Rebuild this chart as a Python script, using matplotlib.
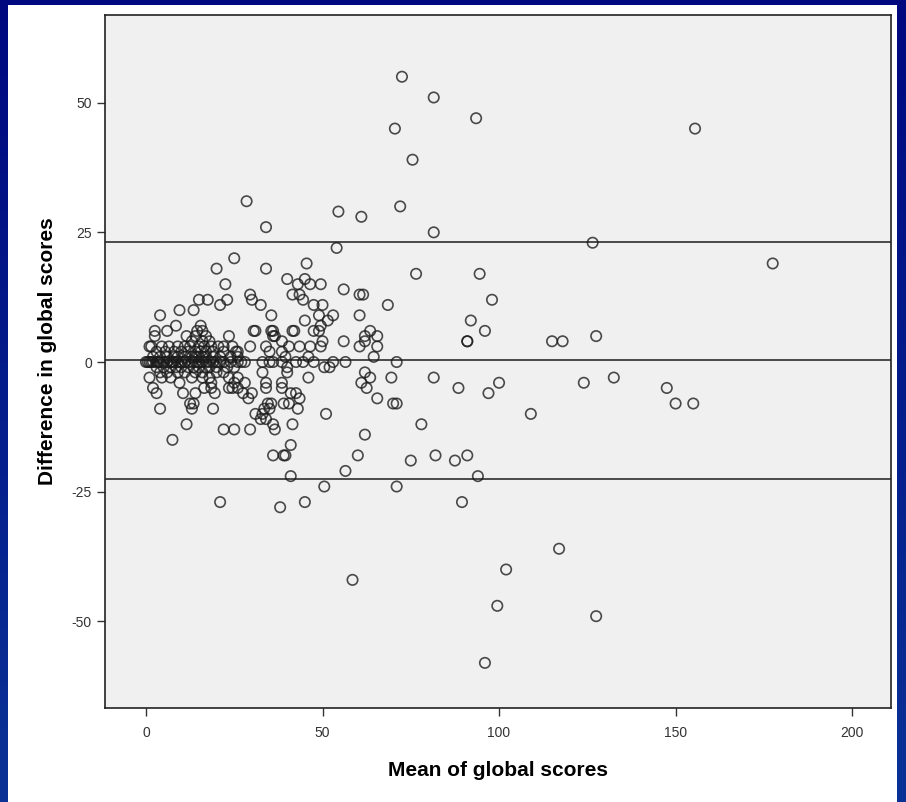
import numpy as np
import matplotlib
matplotlib.use("Agg")
import matplotlib.pyplot as plt
from matplotlib.patches import Rectangle

plt.rcParams["axes.unicode_minus"] = False
plt.rcParams["font.family"] = ["Liberation Sans", "DejaVu Sans"]

# Bland-Altman style data: difference value -> list of means at that difference
rows = {
    55: [72.5],
    51: [81.5],
    47: [93.5],
    45: [70.5, 155.5],
    39: [75.5],
    31: [28.5],
    30: [72],
    29: [54.5],
    28: [61],
    26: [34],
    25: [81.5],
    23: [126.5],
    22: [54],
    20: [25],
    19: [45.5, 177.5],
    18: [20, 34],
    17: [76.5, 94.5],
    16: [40, 45],
    15: [22.5, 43, 46.5, 49.5],
    14: [56],
    13: [29.5, 41.5, 43.5, 60.5, 61.5],
    12: [15, 17.5, 23, 30, 44.5, 98],
    11: [21, 32.5, 47.5, 50, 68.5],
    10: [9.5, 13.5],
    9: [4, 35.5, 49, 53, 60.5],
    8: [45, 51.5, 92],
    7: [8.5, 15.5, 49.5],
    6: [2.5, 6, 14.5, 16, 30.5, 31, 35.5, 36, 41.5, 42, 47.5, 49, 63.5, 96],
    5: [2.5, 11.5, 14, 17, 23.5, 36, 36.5, 62, 65.5, 127.5],
    4: [13, 16, 18, 38.5, 50, 56, 62, 91, 91, 115, 118],
    3: [1, 1.5, 4.5, 6.5, 9, 11, 12.5, 15, 16.5, 18.5, 20.5, 22, 24.5, 29.5,
        34, 40.5, 43.5, 46.5, 49.5, 60.5, 65.5],
    2: [3, 5.5, 8, 10, 12, 14, 15.5, 17, 19, 22, 25.5, 26, 35, 38.5],
    1: [2, 4, 6, 8, 9, 11, 13, 14, 15, 16, 17, 19, 21, 24, 26, 39.5, 46, 64.5],
    0: [0, 0.5, 1, 1.5, 2, 3, 3.5, 4, 5, 6, 7, 7.5, 8, 9, 10, 11, 12, 13, 14,
        15, 16, 17, 18, 19, 20, 21, 22, 24, 26, 27, 28, 33, 35, 36, 38.5,
        42.5, 44.5, 47.5, 53, 56.5, 71],
    -1: [3, 5, 7, 8.5, 10, 12, 13.5, 15, 17, 18, 20, 23, 25, 40, 50.5, 52],
    -2: [4, 6, 9, 11, 14, 16, 20, 22, 33, 40, 62],
    -3: [1, 4.5, 7, 13, 16, 18, 23.5, 26, 46, 63.5, 69.5, 81.5, 132.5],
    -4: [9.5, 18.5, 25, 28, 34, 38.5, 61, 100, 124],
    -5: [2, 16.5, 18.5, 23.5, 24.5, 26, 34, 38.5, 62.5, 88.5, 147.5],
    -6: [3, 10.5, 14, 19.5, 27.5, 30, 41, 42.5, 97],
    -7: [29, 43.5, 65.5],
    -8: [12.5, 13.5, 34.5, 35.5, 39, 40.5, 70, 71, 150, 155],
    -9: [4, 13, 19, 33.5, 35, 43],
    -10: [31, 33, 51, 109],
    -11: [32.5, 34],
    -12: [11.5, 36, 41.5, 78],
    -13: [22, 25, 29.5, 36.5],
    -14: [62],
    -15: [7.5],
    -16: [41],
    -18: [36, 39, 39.5, 60, 82, 91],
    -19: [75, 87.5],
    -21: [56.5],
    -22: [41, 94],
    -24: [50.5, 71],
    -27: [21, 45, 89.5],
    -28: [38],
    -36: [117],
    -40: [102],
    -42: [58.5],
    -47: [99.5],
    -49: [127.5],
    -58: [96],
}

mean_scores = np.array([m for d, ms in rows.items() for m in ms])
diff_scores = np.array([d for d, ms in rows.items() for m in ms])

mean_diff = 0.3
upper_loa = 23.1
lower_loa = -22.5

x_ticks = [0, 50, 100, 150, 200]
y_ticks = [-50, -25, 0, 25, 50]

W, H = 906, 802
fig = plt.figure(figsize=(W / 100, H / 100), dpi=100)

# navy gradient frame
bg = fig.add_axes([0, 0, 1, 1])
grad = np.linspace(0, 1, 256)[:, None]
top = np.array([0, 8, 128]) / 255
bot = np.array([10, 50, 150]) / 255
img = top + (bot - top) * grad[:, :, None]
bg.imshow(img, aspect="auto", extent=[0, 1, 0, 1], origin="upper")
bg.add_patch(Rectangle((8 / W, 0), (897 - 8) / W, (H - 5) / H,
                       facecolor="white", edgecolor="none"))
bg.set_xlim(0, 1)
bg.set_ylim(0, 1)
bg.axis("off")

ax = fig.add_axes([105 / W, (H - 708) / H, (891 - 105) / W, (708 - 15) / H])
ax.set_facecolor("#f0f0f0")

for y in (upper_loa, mean_diff, lower_loa):
    ax.axhline(y, color="#3c3c3c", linewidth=1.3, zorder=2)

ax.scatter(mean_scores, diff_scores, s=56, facecolors="none",
           edgecolors="#1a1a1a", linewidths=1.2, alpha=0.78, zorder=3)

ax.set_xlim(-11.6, 211)
ax.set_ylim(-66.7, 66.9)
ax.set_xticks(x_ticks)
ax.set_yticks(y_ticks)
ax.tick_params(direction="out", length=6, width=1, colors="#333333",
               labelsize=10)
ax.tick_params(axis="x", pad=7)
for sp in ax.spines.values():
    sp.set_color("#222222")
    sp.set_linewidth(1.2)

ax.set_xlabel("Mean of global scores", fontsize=15, fontweight="bold",
              labelpad=15)
ax.set_ylabel("Difference in global scores", fontsize=15, fontweight="bold")
ax.yaxis.set_label_coords(-0.061, 0.515)

fig.savefig("out.png", dpi=100)
